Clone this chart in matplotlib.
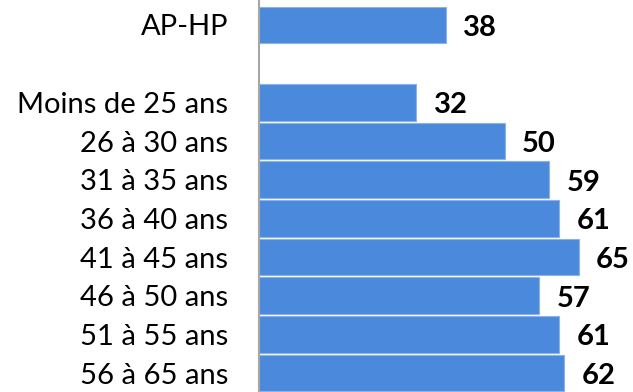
import matplotlib
matplotlib.use("Agg")
import matplotlib.pyplot as plt

categories = ["AP-HP", "", "Moins de 25 ans", "26 à 30 ans", "31 à 35 ans",
              "36 à 40 ans", "41 à 45 ans", "46 à 50 ans", "51 à 55 ans", "56 à 65 ans"]
values = [38, None, 32, 50, 59, 61, 65, 57, 61, 62]

plt.rcParams['font.family'] = ['Lato', 'DejaVu Sans']

fig = plt.figure(figsize=(6.33, 3.92), dpi=100)
ax = fig.add_axes([259 / 633, 0, 1 - 259 / 633, 1])

bar_color = "#4a89dc"
pos = list(range(len(categories)))
for i, v in zip(pos, values):
    if v is None:
        continue
    ax.barh(i, v, height=0.95, color=bar_color, edgecolor="#8db2e8", linewidth=0.8)
    ax.text(v + 3.5, i + 0.08, f"{v}", ha="left", va="center",
            fontsize=21, fontweight="bold", color="black")

ax.set_ylim(9.49, -0.646)
ax.set_xlim(0, (633 - 259) / 4.92)
ax.set_yticks(pos)
ax.set_yticklabels(categories, fontsize=21)
ax.tick_params(axis="y", length=0, pad=22)
ax.set_xticks([])
for s in ["top", "right", "bottom"]:
    ax.spines[s].set_visible(False)
ax.spines["left"].set_color("#a6a6a6")
ax.spines["left"].set_linewidth(1.5)

fig.savefig("out.png", dpi=100)
